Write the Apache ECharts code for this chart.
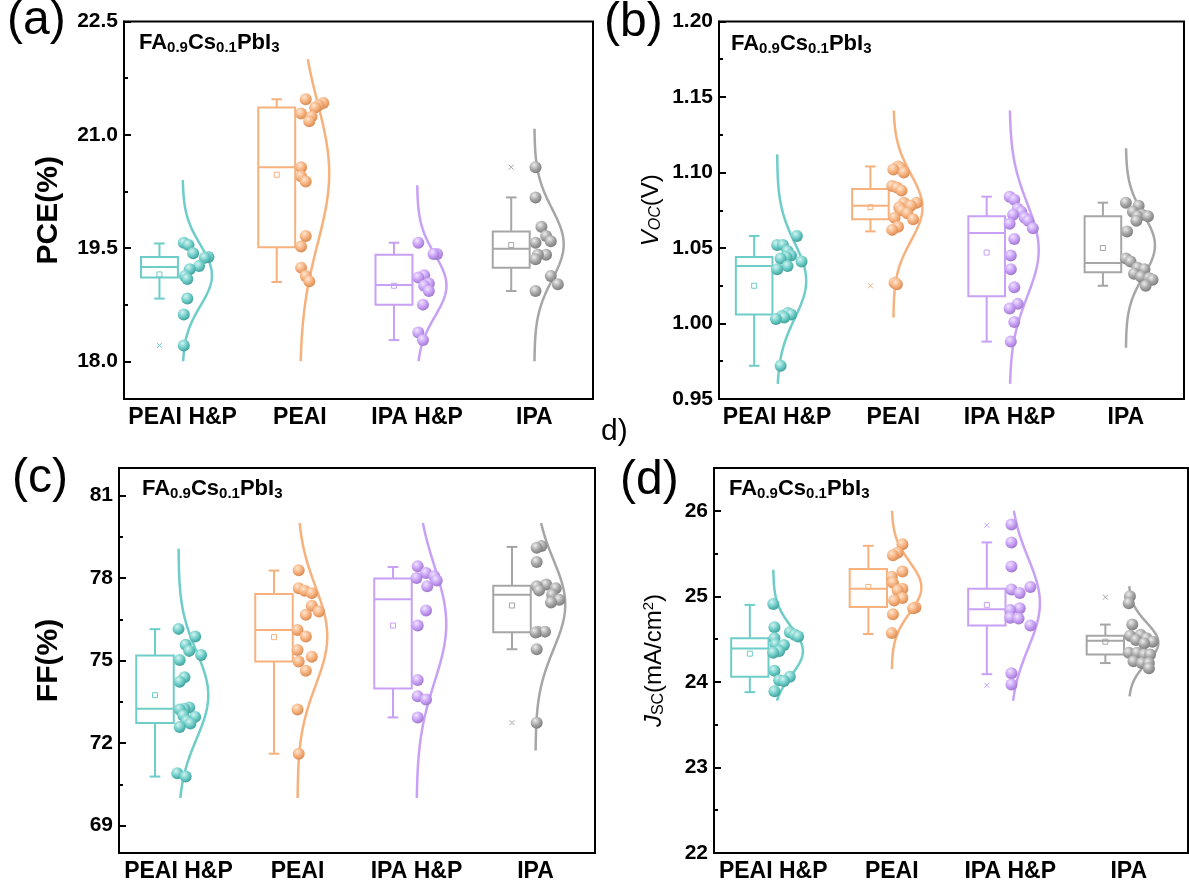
<!DOCTYPE html>
<html>
<head>
<meta charset="utf-8">
<script src="https://cdn.jsdelivr.net/npm/echarts@6/dist/echarts.min.js"></script>
<style>
  html, body { margin: 0; padding: 0; background: #fff; }
  #chart { width: 1189px; height: 887px; }
</style>
</head>
<body>
<div id="chart"></div>
<script>
// ---------------------------------------------------------------
// 四联图: PCE / Voc / FF / Jsc  (箱线 + 散点 + 正态分布曲线)
// ---------------------------------------------------------------

const GROUPS = ['PEAI H&P', 'PEAI', 'IPA H&P', 'IPA'];

// (a) PCE
const pceValues = [
    [19.57, 19.54, 19.43, 19.38, 19.37, 19.26, 19.22, 19.13, 19.09, 18.83, 18.62, 18.21],
    [21.47, 21.42, 21.39, 21.36, 21.28, 21.24, 21.18, 20.57, 20.45, 20.38, 19.66, 19.52, 19.24, 19.13, 19.06],
    [19.57, 19.42, 19.42, 19.14, 19.11, 19.03, 19.00, 18.93, 18.75, 18.38, 18.28],
    [20.57, 20.17, 19.78, 19.66, 19.59, 19.57, 19.41, 19.41, 19.35, 19.13, 19.02, 18.93]
];
const pceJitter = [
    [0.01, 0.05, 0.09, 0.22, 0.19, 0.14, 0.06, 0.02, 0.04, 0.04, 0.01, 0.01],
    [0.05, 0.20, 0.16, 0.13, 0.01, 0.10, 0.08, 0.01, 0.01, 0.05, 0.05, 0.01, 0.01, 0.05, 0.08],
    [0.01, 0.17, 0.14, 0.06, 0.01, 0.10, 0.06, 0.10, 0.05, 0.01, 0.05],
    [0.01, 0.01, 0.06, 0.10, 0.14, 0.01, 0.10, 0.03, 0.01, 0.14, 0.20, 0.01]
];
const pceBox = [[18.83, 19.11, 19.25, 19.38, 19.56], [19.05, 19.51, 20.57, 21.36, 21.47], [18.28, 18.75, 19.01, 19.41, 19.57], [18.93, 19.24, 19.49, 19.72, 20.17]];
const pceMean = [19.15, 20.47, 19.00, 19.54];
const pceExtremes = [[18.21], [], [], [20.57]];
const pceCurve = [[18.0, 20.40], [18.0, 22.0], [18.0, 20.33], [18.0, 21.08]];
const pceTicks = [18.0, 19.5, 21.0, 22.5];
const pceMinor = [18.75, 20.25, 21.75];

// (b) Voc
const vocValues = [
    [1.058, 1.052, 1.052, 1.048, 1.045, 1.044, 1.043, 1.041, 1.038, 1.036, 1.007, 1.006, 1.005, 1.004, 1.003, 0.972],
    [1.104, 1.103, 1.102, 1.100, 1.091, 1.090, 1.088, 1.080, 1.080, 1.078, 1.077, 1.075, 1.073, 1.070, 1.069, 1.064, 1.062, 1.027, 1.026],
    [1.084, 1.082, 1.076, 1.074, 1.072, 1.070, 1.068, 1.066, 1.063, 1.056, 1.045, 1.036, 1.024, 1.013, 1.010, 1.001, 0.988],
    [1.080, 1.078, 1.074, 1.072, 1.071, 1.071, 1.068, 1.061, 1.043, 1.041, 1.037, 1.036, 1.033, 1.031, 1.030, 1.029, 1.025]
];
const vocJitter = [
    [0.17, 0.00, 0.05, 0.09, 0.12, 0.08, 0.03, 0.21, 0.09, 0.00, 0.09, 0.12, 0.04, 0.06, -0.01, 0.03],
    [0.04, 0.06, 0.00, 0.09, -0.01, 0.03, 0.07, 0.20, 0.09, 0.15, 0.05, 0.07, 0.12, 0.01, 0.17, 0.04, -0.01, 0.01, 0.03],
    [0.00, 0.04, 0.07, 0.10, 0.03, 0.13, 0.16, 0.00, 0.20, 0.04, 0.01, 0.01, 0.04, 0.07, 0.00, 0.04, 0.01],
    [0.00, 0.11, 0.06, 0.14, 0.10, 0.19, 0.09, 0.01, 0.00, 0.04, 0.10, 0.16, 0.07, 0.13, 0.20, 0.23, 0.17]
];
const vocBox = [[0.972, 1.006, 1.038, 1.044, 1.058], [1.061, 1.069, 1.078, 1.089, 1.104], [0.988, 1.018, 1.060, 1.071, 1.084], [1.025, 1.034, 1.040, 1.071, 1.080]];
const vocMean = [1.025, 1.077, 1.047, 1.050];
const vocExtremes = [[], [1.025], [], []];
const vocCurve = [[0.960, 1.112], [1.004, 1.141], [0.960, 1.141], [0.984, 1.116]];
const vocTicks = [0.95, 1.00, 1.05, 1.10, 1.15, 1.20];
const vocMinor = [0.975, 1.025, 1.075, 1.125, 1.175];

// (c) FF
const ffValues = [
    [76.15, 75.87, 75.57, 75.35, 75.20, 75.02, 74.39, 74.23, 73.29, 73.25, 73.22, 73.00, 72.95, 72.80, 72.71, 72.58, 70.90, 70.78],
    [78.28, 77.63, 77.54, 77.45, 76.99, 76.78, 76.66, 76.11, 75.87, 75.38, 75.14, 74.96, 74.63, 73.22, 71.61],
    [78.43, 78.18, 78.06, 78.00, 77.91, 77.70, 76.82, 76.27, 74.29, 73.70, 73.58, 72.93],
    [79.16, 79.10, 78.58, 77.76, 77.70, 77.63, 77.55, 77.39, 77.21, 77.11, 76.05, 76.05, 76.02, 75.41, 72.74]
];
const ffJitter = [
    [0.00, 0.14, 0.06, 0.09, 0.19, 0.01, 0.05, 0.01, 0.09, 0.05, 0.01, 0.04, 0.14, 0.07, 0.10, 0.01, -0.01, 0.06],
    [0.01, 0.01, 0.06, 0.12, 0.12, 0.18, 0.07, 0.00, 0.07, 0.00, 0.12, 0.01, 0.07, 0.00, 0.01],
    [0.01, 0.08, 0.15, 0.00, 0.17, 0.09, 0.08, 0.01, 0.01, 0.01, 0.08, 0.01],
    [0.05, 0.01, 0.01, 0.09, 0.01, 0.17, 0.03, 0.14, 0.20, 0.13, 0.02, 0.08, 0.00, 0.01, 0.01]
];
const ffBox = [[70.78, 72.73, 73.25, 75.18, 76.14], [71.61, 74.96, 76.11, 77.42, 78.27], [72.93, 73.98, 77.23, 77.98, 78.40], [75.41, 76.03, 77.39, 77.72, 79.13]];
const ffMean = [73.74, 75.85, 76.27, 77.0];
const ffExtremes = [[], [], [], [72.74]];
const ffCurve = [[70.0, 79.06], [70.0, 80.0], [70.0, 80.0], [71.73, 80.0]];
const ffTicks = [69, 72, 75, 78, 81];
const ffMinor = [70.5, 73.5, 76.5, 79.5];

// (d) Jsc
const jscValues = [
    [24.91, 24.64, 24.58, 24.55, 24.53, 24.51, 24.44, 24.43, 24.36, 24.34, 24.13, 24.06, 24.02, 24.01, 23.89],
    [25.61, 25.51, 25.48, 25.29, 25.23, 25.16, 25.09, 25.07, 24.98, 24.95, 24.87, 24.86, 24.79, 24.57],
    [25.84, 25.63, 25.35, 25.11, 25.08, 25.04, 24.86, 24.84, 24.75, 24.74, 24.66, 24.10, 23.97],
    [25.00, 24.92, 24.67, 24.55, 24.54, 24.51, 24.49, 24.47, 24.45, 24.34, 24.34, 24.32, 24.32, 24.24, 24.22, 24.22, 24.16]
];
const jscJitter = [
    [0.00, 0.01, 0.14, 0.18, 0.21, 0.01, 0.02, 0.09, 0.05, 0.00, 0.01, 0.14, 0.05, 0.09, 0.01],
    [0.09, 0.05, 0.01, 0.09, 0.00, 0.01, 0.09, 0.05, 0.09, 0.02, 0.20, 0.18, 0.01, 0.00],
    [0.01, 0.01, 0.01, 0.17, 0.01, 0.08, 0.08, 0.00, 0.00, 0.07, 0.17, 0.01, 0.01],
    [0.01, 0.00, 0.03, 0.10, 0.01, 0.15, 0.06, 0.20, 0.13, 0.00, 0.07, 0.13, 0.18, 0.04, 0.11, 0.17, 0.17]
];
const jscBox = [[23.88, 24.06, 24.39, 24.51, 24.90], [24.56, 24.875, 25.09, 25.32, 25.59], [24.09, 24.66, 24.85, 25.09, 25.63], [24.22, 24.32, 24.48, 24.54, 24.67]];
const jscMean = [24.33, 25.11, 24.90, 24.47];
const jscExtremes = [[], [], [25.83, 23.96], [24.99]];
const jscCurve = [[23.78, 25.31], [24.15, 26.0], [23.78, 26.0], [23.83, 25.12]];
const jscTicks = [22, 23, 24, 25, 26];
const jscMinor = [22.5, 23.5, 24.5, 25.5];

// ---------------------------------------------------------------
const FONT = 'Arial, "Liberation Sans", sans-serif';
const PALETTE = [
    { base: '#6ECDC8', light: '#D4F4F1', dark: '#3F9F99' },  // teal
    { base: '#F6B17D', light: '#FEE6D2', dark: '#D98A52' },  // orange
    { base: '#C8A0F5', light: '#F0E4FF', dark: '#9E76CC' },  // purple
    { base: '#A6A6A6', light: '#EDEDED', dark: '#7C7C7C' }   // gray
];

// 箱体/曲线相对于类目中心的偏移 (类目单位)
const BOX_LEFT = -0.355, BOX_RIGHT = -0.04, CAP_WIDTH = 0.09, CURVE_PEAK = 0.25;

const rich = {
    i: { fontFamily: FONT, fontSize: 24, fontStyle: 'italic', color: '#000' },
    si: { fontFamily: FONT, fontSize: 16, fontStyle: 'italic', color: '#000', padding: [10, 0, 0, 0] },
    s: { fontFamily: FONT, fontSize: 16, color: '#000', padding: [10, 0, 0, 0] },
    n: { fontFamily: FONT, fontSize: 24, color: '#000' },
    p: { fontFamily: FONT, fontSize: 15, color: '#000', padding: [0, 0, 10, 0] }
};

const PANELS = [
    { values: pceValues, jitter: pceJitter, box: pceBox, mean: pceMean, extremes: pceExtremes, curve: pceCurve,
      range: [17.5, 22.5], ticks: pceTicks, minor: pceMinor, digits: 1,
      name: 'PCE(%)', nameStyle: { fontSize: 30, fontWeight: 'bold' } },
    { values: vocValues, jitter: vocJitter, box: vocBox, mean: vocMean, extremes: vocExtremes, curve: vocCurve,
      range: [0.95, 1.20], ticks: vocTicks, minor: vocMinor, digits: 2,
      name: '{i|V}{si|OC}{n|(V)}', nameStyle: { fontSize: 24, rich } },
    { values: ffValues, jitter: ffJitter, box: ffBox, mean: ffMean, extremes: ffExtremes, curve: ffCurve,
      range: [68, 82], ticks: ffTicks, minor: ffMinor, digits: 0,
      name: 'FF(%)', nameStyle: { fontSize: 30, fontWeight: 'bold' } },
    { values: jscValues, jitter: jscJitter, box: jscBox, mean: jscMean, extremes: jscExtremes, curve: jscCurve,
      range: [22, 26.5], ticks: jscTicks, minor: jscMinor, digits: 0,
      name: '{i|J}{s|SC}{n|(mA/cm}{p|2}{n|)}', nameStyle: { fontSize: 24, rich } }
];

const LAYOUT = [
    { grid: { left: 124, top: 21.5, width: 469, height: 377.5 }, nameGap: 60, label: '(a)', labelPos: [7, -3], titlePos: [134, 25] },
    { grid: { left: 719, top: 21.5, width: 465, height: 377.5 }, nameGap: 55, label: '(b)', labelPos: [604, -1], titlePos: [726, 26] },
    { grid: { left: 119, top: 468, width: 476, height: 385 }, nameGap: 55, label: '(c)', labelPos: [12, 455], titlePos: [137, 471] },
    { grid: { left: 714, top: 468, width: 474, height: 385 }, nameGap: 47, label: '(d)', labelPos: [620, 457], titlePos: [724, 471] }
];

function stats(vals) {
    const m = vals.reduce((a, b) => a + b, 0) / vals.length;
    const sd = Math.sqrt(vals.reduce((a, b) => a + (b - m) * (b - m), 0) / (vals.length - 1));
    return { m, sd };
}

function curveRenderer(panel) {
    return (params, api) => {
        const g = api.value(0);
        const { m, sd } = stats(panel.values[g]);
        const [lo, hi] = panel.curve[g];
        const pts = [];
        for (let k = 0; k <= 120; k++) {
            const v = lo + (hi - lo) * k / 120;
            const d = Math.exp(-0.5 * Math.pow((v - m) / sd, 2));
            pts.push(api.coord([g + CURVE_PEAK * d, v]));
        }
        return {
            type: 'polyline', silent: true,
            shape: { points: pts },
            style: { stroke: PALETTE[g].base, lineWidth: 2.5, fill: 'transparent' }
        };
    };
}

function boxRenderer(params, api) {
    const g = api.value(0);
    const c = PALETTE[g].base;
    const [lo, q1, md, q3, hi, mean] = [1, 2, 3, 4, 5, 6].map(k => api.value(k));
    const xl = api.coord([g + BOX_LEFT, lo])[0];
    const xr = api.coord([g + BOX_RIGHT, lo])[0];
    const xc = (xl + xr) / 2;
    const cap = (api.coord([g + CAP_WIDTH, lo])[0] - api.coord([g, lo])[0]) / 2;
    const y = v => api.coord([g, v])[1];
    const line = (x1, y1, x2, y2) => ({ type: 'line', shape: { x1, y1, x2, y2 }, style: { stroke: c, lineWidth: 2 } });
    return {
        type: 'group', silent: true,
        children: [
            { type: 'rect', shape: { x: xl, y: y(q3), width: xr - xl, height: y(q1) - y(q3) },
              style: { fill: 'transparent', stroke: c, lineWidth: 2 } },
            line(xl, y(md), xr, y(md)),
            line(xc, y(q3), xc, y(hi)),
            line(xc, y(q1), xc, y(lo)),
            line(xc - cap, y(hi), xc + cap, y(hi)),
            line(xc - cap, y(lo), xc + cap, y(lo)),
            { type: 'rect', shape: { x: xc - 2.5, y: y(mean) - 2.5, width: 5, height: 5 },
              style: { fill: 'transparent', stroke: c, lineWidth: 1 } }
        ]
    };
}

function extremeRenderer(params, api) {
    const g = api.value(0);
    const xc = api.coord([g + (BOX_LEFT + BOX_RIGHT) / 2, api.value(1)]);
    const s = 2.5;
    const st = { stroke: PALETTE[g].base, lineWidth: 1 };
    return {
        type: 'group', silent: true,
        children: [
            { type: 'line', shape: { x1: xc[0] - s, y1: xc[1] - s, x2: xc[0] + s, y2: xc[1] + s }, style: st },
            { type: 'line', shape: { x1: xc[0] - s, y1: xc[1] + s, x2: xc[0] + s, y2: xc[1] - s }, style: st }
        ]
    };
}

const grids = [], xAxes = [], yAxes = [], series = [], titles = [], graphics = [];

PANELS.forEach((p, i) => {
    const L = LAYOUT[i];
    grids.push({ ...L.grid, show: true, borderColor: '#000', borderWidth: 2, backgroundColor: 'transparent',
                 containLabel: false, outerBoundsMode: 'none' });

    xAxes.push({
        type: 'category', gridIndex: i, data: GROUPS,
        axisLine: { onZero: false, lineStyle: { color: '#000', width: 2 } },
        axisTick: { alignWithLabel: true, inside: true, length: 7, lineStyle: { color: '#000', width: 2 } },
        axisLabel: { interval: 0, margin: 7, color: '#000', fontFamily: FONT, fontSize: 23, fontWeight: 'bold' },
        splitLine: { show: false }
    });
    xAxes.push({ type: 'value', gridIndex: i, min: -0.5, max: 3.5, show: false });

    yAxes.push({
        type: 'value', gridIndex: i, position: 'left', min: p.range[0], max: p.range[1],
        name: p.name, nameLocation: 'middle', nameRotate: 90, nameGap: L.nameGap,
        nameTextStyle: { color: '#000', fontFamily: FONT, ...p.nameStyle },
        axisLine: { show: true, onZero: false, lineStyle: { color: '#000', width: 2 } },
        axisTick: { show: true, inside: true, length: 7, lineStyle: { color: '#000', width: 2 }, customValues: p.ticks },
        axisLabel: { customValues: p.ticks, margin: 6, color: '#000', fontFamily: FONT, fontSize: 21, fontWeight: 'bold',
                     formatter: v => Number(v).toFixed(p.digits) },
        splitLine: { show: false }
    });
    yAxes.push({
        type: 'value', gridIndex: i, position: 'left', min: p.range[0], max: p.range[1],
        axisLine: { show: false, onZero: false },
        axisTick: { show: true, inside: true, length: 4, lineStyle: { color: '#000', width: 2 }, customValues: p.minor },
        axisLabel: { show: false },
        splitLine: { show: false }
    });

    const xi = 2 * i + 1, yi = 2 * i;

    series.push({
        type: 'custom', xAxisIndex: xi, yAxisIndex: yi,
        data: p.curve.map((r, g) => [g, r[0]]),
        encode: { x: 0, y: 1 },
        renderItem: curveRenderer(p)
    });
    series.push({
        type: 'custom', xAxisIndex: xi, yAxisIndex: yi,
        data: p.box.map((b, g) => [g, ...b, p.mean[g]]),
        encode: { x: 0, y: [1, 2, 3, 4, 5] },
        renderItem: boxRenderer
    });
    series.push({
        type: 'custom', xAxisIndex: xi, yAxisIndex: yi,
        data: p.extremes.flatMap((arr, g) => arr.map(v => [g, v])),
        encode: { x: 0, y: 1 },
        renderItem: extremeRenderer
    });
    p.values.forEach((vals, g) => {
        const pal = PALETTE[g];
        series.push({
            type: 'scatter', xAxisIndex: xi, yAxisIndex: yi,
            data: vals.map((v, k) => [g + p.jitter[g][k], v]),
            symbolSize: 12,
            itemStyle: {
                opacity: 1,
                color: new echarts.graphic.RadialGradient(0.38, 0.32, 0.7, [
                    { offset: 0, color: pal.light },
                    { offset: 0.55, color: pal.base },
                    { offset: 1, color: pal.dark }
                ])
            },
            z: 3
        });
    });

    titles.push({
        left: L.titlePos[0], top: L.titlePos[1],
        text: '{b|FA}{s|0.9}{b|Cs}{s|0.1}{b|PbI}{s|3}',
        textStyle: {
            rich: {
                b: { fontFamily: FONT, fontSize: 22, fontWeight: 'bold', color: '#000' },
                s: { fontFamily: FONT, fontSize: 15, fontWeight: 'bold', color: '#000', padding: [10, 0, 0, 0] }
            }
        }
    });

    graphics.push({
        type: 'text', left: L.labelPos[0], top: L.labelPos[1],
        style: { text: L.label, fill: '#000', font: '48px ' + FONT }
    });
});

graphics.push({
    type: 'text', left: 601, top: 417,
    style: { text: 'd)', fill: '#000', font: '30px ' + FONT }
});

const chart = echarts.init(document.getElementById('chart'), null, { renderer: 'canvas' });
chart.setOption({
    animation: false,
    backgroundColor: '#fff',
    title: titles,
    grid: grids,
    xAxis: xAxes,
    yAxis: yAxes,
    series,
    graphic: graphics
});
</script>
</body>
</html>
